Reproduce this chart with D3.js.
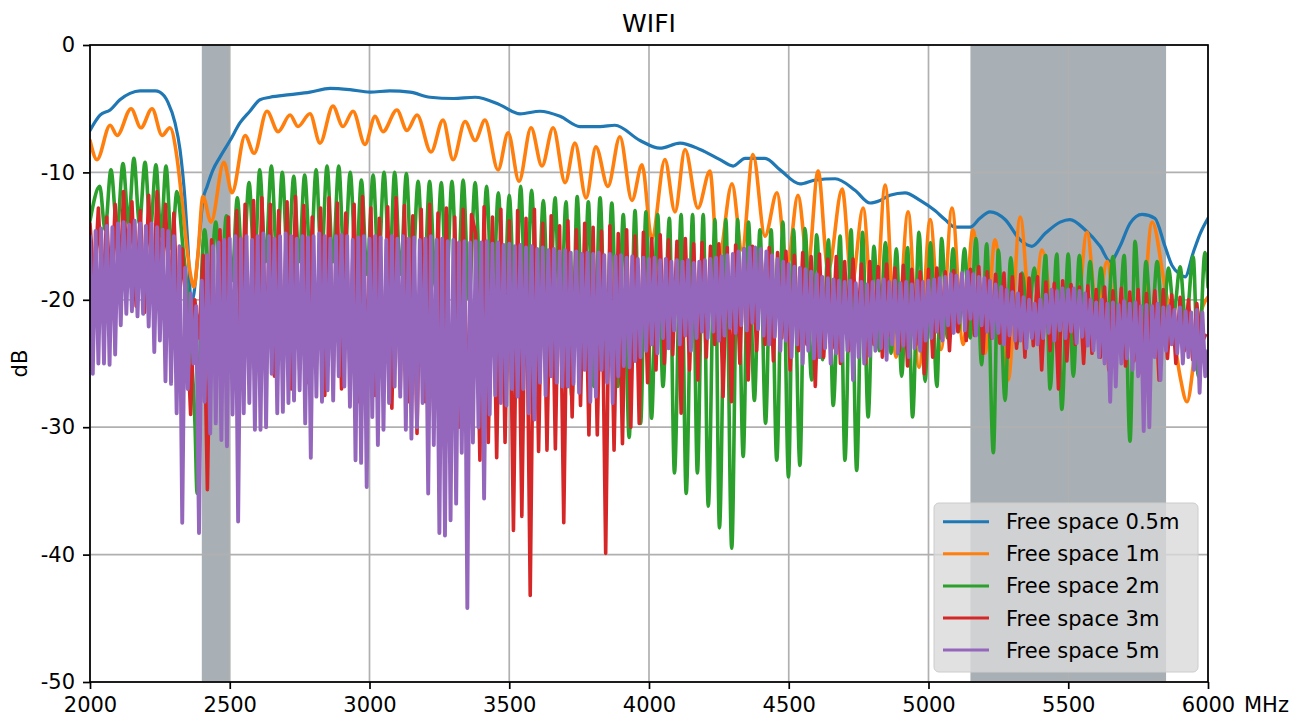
<!DOCTYPE html>
<html><head><meta charset="utf-8">
<script src="https://cdn.jsdelivr.net/npm/d3@7"></script>
<style>body{margin:0;background:#fff;} svg{display:block;font-family:"DejaVu Sans",sans-serif;}</style>
</head><body><svg id="c" width="1305" height="720"></svg>
<script>
// ---------- data ----------
const xTicks = [2000, 2500, 3000, 3500, 4000, 4500, 5000, 5500, 6000];
const yTicks = [0, -10, -20, -30, -40, -50];
const bands = [[2400, 2500], [5150, 5850]];
const seriesNames = ["Free space 0.5m", "Free space 1m", "Free space 2m", "Free space 3m", "Free space 5m"];
const seriesColors = ["#1f77b4", "#ff7f0e", "#2ca02c", "#d62728", "#9467bd"];

// 0.5 m : [MHz, dB]
const blue05 = [[2000,-6.7],[2036,-5.5],[2072,-5.1],[2107,-4.3],[2143,-3.8],[2179,-3.6],[2233,-3.6],[2250,-3.7],[2279,-4.5],[2304,-6.1],[2322,-8.2],[2340,-12.2],[2351,-16],[2362,-20.3],[2372,-19.5],[2386,-16.5],[2404,-12.2],[2419,-11.1],[2440,-9.8],[2465,-8.8],[2501,-7.5],[2537,-6.1],[2572,-5.2],[2608,-4.3],[2644,-4.1],[2716,-3.9],[2787,-3.7],[2859,-3.4],[2930,-3.5],[3002,-3.7],[3073,-3.6],[3145,-3.7],[3217,-4.1],[3300,-4.2],[3378,-4.1],[3467,-4.7],[3539,-5.4],[3610,-5.2],[3682,-5.6],[3753,-6.4],[3825,-6.4],[3878,-6.3],[3968,-7.5],[4039,-8.1],[4111,-7.7],[4183,-8.2],[4254,-9.0],[4301,-9.5],[4344,-8.9],[4415,-8.9],[4469,-9.8],[4540,-10.9],[4594,-10.6],[4666,-10.5],[4737,-11.4],[4791,-12.4],[4827,-12.2],[4862,-11.8],[4916,-11.6],[4970,-12.2],[5023,-13.0],[5059,-13.7],[5095,-14.3],[5149,-14.3],[5184,-13.6],[5220,-13.1],[5274,-13.7],[5328,-15.3],[5370,-15.8],[5417,-14.8],[5471,-13.9],[5506,-13.7],[5560,-14.5],[5614,-15.8],[5650,-17.0],[5685,-15.8],[5721,-14.0],[5764,-13.3],[5810,-13.6],[5846,-15.8],[5871,-17.3],[5900,-18.0],[5918,-18.2],[5947,-16.3],[5972,-14.8],[6000,-13.6]];

// 1 m : [MHz, dB]
const orange1 = [[2000,-7.5],[2025,-9.0],[2072,-6.3],[2097,-7.1],[2147,-5.0],[2182,-6.5],[2222,-5.0],[2258,-7.1],[2286,-6.5],[2311,-8.8],[2329,-12.2],[2347,-16.0],[2361,-18.2],[2372,-19.0],[2386,-16.5],[2404,-11.9],[2433,-13.9],[2479,-9.2],[2508,-11.6],[2555,-7.1],[2587,-8.5],[2633,-5.2],[2673,-6.8],[2716,-5.5],[2744,-6.4],[2787,-5.4],[2823,-7.7],[2869,-4.8],[2905,-6.4],[2941,-5.2],[2984,-7.8],[3020,-5.6],[3048,-6.8],[3098,-5.1],[3134,-6.7],[3170,-5.5],[3220,-8.4],[3263,-5.9],[3299,-9.0],[3342,-6.0],[3378,-7.5],[3413,-5.9],[3460,-9.8],[3496,-6.9],[3535,-10.7],[3578,-6.5],[3617,-9.5],[3657,-6.5],[3700,-10.8],[3735,-7.7],[3775,-12.0],[3810,-8.0],[3853,-11.1],[3896,-7.2],[3939,-12.2],[3975,-9.4],[4010,-15.2],[4057,-9.0],[4093,-13.1],[4129,-8.2],[4175,-12.8],[4218,-9.9],[4247,-17.1],[4297,-10.9],[4333,-16.1],[4372,-8.6],[4415,-15.0],[4458,-11.6],[4494,-17.4],[4533,-11.8],[4569,-17.2],[4605,-9.9],[4641,-17.7],[4691,-11.3],[4726,-18.7],[4766,-12.8],[4805,-22.9],[4845,-11.0],[4884,-24.5],[4927,-13.1],[4966,-25.3],[5006,-13.7],[5045,-23.9],[5084,-12.8],[5124,-23.5],[5159,-14.5],[5202,-24.2],[5238,-15.3],[5285,-26.3],[5328,-13.5],[5370,-22.6],[5406,-16.1],[5453,-22.0],[5489,-19.0],[5524,-23.0],[5567,-14.7],[5603,-21.0],[5639,-17.0],[5678,-24.0],[5721,-20.0],[5757,-23.0],[5800,-13.9],[5846,-19.0],[5871,-21.8],[5900,-26.0],[5925,-28.0],[5954,-24.0],[5975,-21.0],[6000,-19.8]];

// 2 m : [MHz, dB]
const green2 = [[2000,-13.8],[2035,-11.1],[2054,-14.5],[2075,-9.8],[2097,-14.5],[2118,-9.3],[2138,-14],[2157,-8.9],[2177,-14],[2197,-9.2],[2216,-14.5],[2236,-9.4],[2254,-15],[2272,-9.5],[2292,-16],[2311,-11.5],[2333,-16],[2351,-20],[2365,-25],[2376,-30],[2383,-35.2],[2390,-28],[2397,-20],[2410,-14.5],[2429,-19],[2450,-13.9],[2469,-19],[2488,-13.4],[2508,-18.5],[2527,-12.0],[2547,-18],[2569,-10.8],[2589,-17.5],[2607,-9.8],[2628,-17],[2649,-9.5],[2669,-17],[2688,-10.0],[2708,-17.5],[2729,-10.3],[2748,-17],[2768,-10.2],[2789,-17],[2809,-9.8],[2828,-17],[2848,-9.5],[2869,-17],[2890,-9.5],[2910,-17.5],[2931,-10.0],[2952,-17.5],[2971,-10.6],[2991,-18],[3013,-10.2],[3032,-17.5],[3052,-10.0],[3072,-17.5],[3090,-10.0],[3111,-18],[3132,-10.1],[3152,-18.5],[3174,-10.7],[3195,-19],[3215,-10.7],[3236,-19],[3257,-10.8],[3275,-19],[3295,-10.7],[3315,-19.5],[3335,-10.6],[3356,-20],[3378,-10.8],[3399,-20],[3419,-11.1],[3440,-21],[3461,-11.6],[3481,-21],[3500,-11.8],[3521,-21.5],[3541,-11.1],[3560,-22],[3580,-11.4],[3601,-22],[3622,-12.2],[3642,-22.5],[3664,-12.0],[3683,-23],[3703,-12.3],[3724,-27.6],[3743,-11.9],[3764,-24],[3783,-12.3],[3803,-26.8],[3825,-12.0],[3846,-25],[3867,-12.4],[3888,-26.8],[3908,-13.3],[3929,-30.8],[3950,-13.0],[3970,-29.7],[3989,-13.1],[4009,-29.3],[4031,-13.3],[4050,-26.8],[4073,-13.6],[4091,-33.6],[4115,-13.3],[4133,-35.2],[4156,-13.3],[4173,-33.6],[4194,-13.3],[4212,-36.2],[4236,-13.7],[4252,-37.9],[4275,-13.7],[4296,-39.5],[4317,-13.7],[4337,-32.3],[4356,-13.9],[4377,-27.9],[4397,-14.5],[4417,-29.7],[4437,-14.5],[4457,-32.6],[4479,-13.9],[4499,-33.9],[4517,-14.5],[4540,-33.0],[4558,-14.4],[4582,-26.3],[4600,-14.9],[4621,-24.7],[4642,-15.3],[4659,-28.3],[4684,-15.0],[4701,-32.6],[4723,-14.5],[4743,-33.4],[4764,-14.7],[4784,-29.2],[4805,-15.8],[4824,-24],[4846,-15.5],[4866,-24.2],[4885,-16],[4904,-26.0],[4925,-15.9],[4943,-29.2],[4966,-14.7],[4988,-26.4],[5007,-15.5],[5030,-26.8],[5047,-15.2],[5068,-23],[5088,-16],[5107,-22.5],[5129,-16],[5149,-23],[5170,-15.2],[5190,-25.1],[5208,-15.6],[5232,-32.0],[5250,-16.1],[5274,-27.9],[5294,-16.7],[5316,-23.5],[5335,-17.9],[5356,-22],[5378,-17.5],[5399,-22],[5419,-16.5],[5435,-27.0],[5459,-16.4],[5477,-28.6],[5500,-16.4],[5518,-26.0],[5540,-16.5],[5558,-23],[5578,-17],[5598,-22],[5617,-17.5],[5637,-22.5],[5660,-16.6],[5679,-23],[5700,-16.5],[5721,-31.1],[5739,-15.4],[5761,-24],[5778,-17],[5798,-22],[5818,-17],[5839,-22],[5859,-17.5],[5878,-21],[5900,-17.4],[5921,-22],[5947,-16.6],[5965,-26.0],[5989,-16.3],[6000,-19]];

// 3 m : sampled every 15 MHz from 2000 MHz
const red3Start = 2000, red3Step = 15;
const red3 = [
-14.0,-19.0,-12.8,-20.0,-13.5,-21.0,-12.5,-20.0,-11.5,-19.0,-12.3,-20.5,-13.0,-21.0,-11.8,-20.0,-11.5,-19.5,-12.5,-21.0,
-13.2,-22.0,-16.0,-21.0,-29.0,-20.0,-23.0,-16.5,-34.9,-15.3,-24.0,-14.5,-25.0,-13.5,-26.0,-13.0,-24.5,-12.5,-25.5,-12.2,
-25.0,-12.0,-24.0,-12.5,-26.0,-13.0,-25.0,-12.3,-27.0,-11.9,-25.5,-12.6,-26.5,-13.5,-25.0,-12.8,-27.5,-12.0,-26.0,-12.4,
-27.0,-13.2,-25.5,-12.5,-28.0,-11.9,-26.0,-12.8,-27.5,-13.6,-26.5,-12.7,-28.5,-12.0,-27.0,-12.6,-28.0,-13.4,-30.5,-12.9,
-28.0,-12.5,-29.0,-13.2,-30.7,-12.8,-32.6,-13.5,-30.0,-12.9,-30.5,-13.3,-14.8,-32.6,-12.7,-31.2,-13.5,-32.4,-12.9,-31.2,
-13.8,-38.1,-13.0,-37.0,-13.6,-43.2,-12.9,-31.9,-14.0,-31.8,-13.4,-31.7,-14.2,-37.5,-13.8,-29.2,-14.5,-28.3,-14.0,-30.6,
-14.3,-30.6,-14.6,-39.9,-14.2,-31.8,-14.8,-31.3,-14.5,-30.0,-15.0,-29.7,-14.7,-26.5,-15.2,-25.5,-14.9,-25.0,-15.3,-24.3,
-15.4,-28.9,-15.2,-25.5,-15.6,-26.3,-15.5,-24.5,-15.8,-23.5,-15.6,-27.6,-15.9,-28.0,-15.7,-25.0,-16.0,-26.3,-15.8,-24.0,
-16.1,-23.5,-15.9,-24.8,-16.3,-23.0,-16.2,-25.5,-16.5,-24.0,-16.3,-23.5,-16.6,-26.8,-16.4,-24.5,-16.8,-23.8,-16.6,-25.0,
-17.0,-24.0,-16.8,-23.0,-17.2,-25.0,-17.0,-23.5,-17.4,-24.5,-17.2,-22.8,-17.5,-24.0,-17.3,-25.2,-17.6,-23.5,-17.8,-25.8,
-17.6,-24.5,-17.5,-23.0,-17.8,-24.0,-17.7,-22.5,-18.0,-23.2,-17.6,-22.8,-17.4,-24.2,-17.8,-23.0,-18.0,-23.4,-17.9,-24.5,
-18.2,-23.8,-18.0,-24.5,-18.3,-23.6,-18.2,-25.5,-18.6,-24.0,-18.7,-27.0,-18.5,-24.8,-18.8,-23.5,-19.0,-25.0,-18.9,-24.2,
-19.2,-24.5,-19.0,-25.5,-19.3,-24.0,-19.1,-25.2,-19.4,-24.8,-19.2,-25.8,-19.5,-24.5,-19.3,-26.3,-19.2,-24.6,-19.6,-25.0,
-19.8,-24.0,-20.0,-24.7,-20.3,-23.5,-22.8];

// 5 m : sampled every 10 MHz from 2000 MHz
const purple5Start = 2000, purple5Step = 10;
const purple5 = [
-15.0,-25.8,-14.6,-25.0,-14.4,-25.0,-14.2,-25.1,-14.3,-24.3,-14.0,-22.0,-13.9,-21.1,-14.1,-20.9,-13.8,-21.3,-14.0,-21.1,
-14.2,-22.1,-14.0,-24.1,-14.3,-23.2,-14.5,-26.4,-14.6,-26.6,-15.0,-28.9,-15.8,-37.5,-17.5,-27.0,-19.5,-25.0,-20.5,-38.3,
-18.5,-28.0,-16.5,-30.5,-15.8,-29.7,-15.5,-31.0,-15.3,-31.5,-15.2,-29.0,-15.0,-37.4,-15.2,-28.9,-15.0,-28.1,-15.3,-30.2,
-15.0,-30.2,-14.8,-30.0,-15.0,-25.8,-15.2,-28.9,-15.0,-28.8,-14.8,-28.1,-15.0,-27.9,-15.2,-27.1,-15.0,-29.7,-15.1,-32.4,
-15.0,-27.6,-14.8,-28.0,-15.0,-27.1,-15.2,-27.9,-15.0,-26.0,-14.9,-26.8,-15.0,-28.4,-15.3,-32.6,-15.1,-32.8,-15.0,-34.7,
-15.2,-29.2,-15.0,-31.4,-15.1,-30.2,-15.3,-28.1,-15.0,-26.8,-15.2,-27.6,-15.0,-30.2,-15.2,-30.9,-15.1,-30.0,-15.3,-28.1,
-15.2,-35.2,-15.0,-31.4,-15.3,-38.3,-15.2,-38.5,-15.4,-37.3,-15.3,-36.0,-15.5,-32.0,-15.4,-44.2,-15.5,-31.2,-15.4,-30.0,
-15.5,-35.6,-15.4,-29.0,-15.6,-27.5,-15.5,-28.1,-15.7,-28.3,-15.6,-27.0,-15.8,-27.6,-15.7,-27.0,-15.9,-28.9,-15.8,-29.4,
-16.0,-26.5,-15.9,-27.5,-16.1,-26.0,-16.0,-26.5,-16.2,-26.8,-16.1,-26.8,-16.3,-26.6,-16.2,-27.3,-16.4,-25.5,-16.3,-28.0,
-16.4,-27.6,-16.3,-25.5,-16.5,-26.5,-16.4,-28.1,-16.6,-26.0,-16.5,-25.2,-16.7,-25.3,-16.6,-24.8,-16.8,-24.5,-16.7,-24.0,
-16.8,-23.5,-16.7,-24.2,-16.9,-23.0,-16.8,-23.8,-17.0,-22.4,-16.9,-23.5,-17.0,-22.8,-16.9,-24.0,-17.1,-23.0,-17.0,-22.5,
-16.9,-23.0,-16.8,-22.5,-16.7,-23.2,-16.6,-22.8,-16.5,-22.2,-16.4,-22.6,-16.2,-22.0,-16.0,-22.4,-15.9,-21.8,-15.9,-22.3,
-16.0,-22.8,-16.2,-23.5,-16.5,-22.9,-16.8,-24.0,-17.0,-23.2,-17.2,-24.5,-17.4,-23.5,-17.5,-25.0,-17.6,-24.0,-17.8,-24.6,
-18.0,-24.5,-18.2,-23.8,-18.3,-25.0,-18.4,-24.2,-18.5,-24.8,-18.6,-24.0,-18.5,-26.3,-18.7,-24.5,-18.6,-25.0,-18.8,-24.4,
-18.6,-24.0,-18.5,-23.8,-18.4,-24.7,-18.6,-23.5,-18.5,-24.2,-18.7,-23.6,-18.6,-24.5,-18.8,-23.8,-18.5,-24.0,-18.6,-23.2,
-18.5,-23.0,-18.4,-22.5,-18.3,-23.2,-18.2,-22.0,-18.0,-22.6,-18.1,-21.8,-17.9,-22.4,-17.8,-21.5,-18.0,-22.8,-18.2,-22.0,
-18.3,-22.5,-18.5,-23.0,-18.8,-22.6,-19.0,-23.5,-19.2,-22.8,-19.4,-23.2,-19.5,-23.2,-19.8,-23.8,-20.0,-23.0,-20.3,-23.5,
-20.0,-23.0,-19.6,-22.6,-19.2,-23.2,-19.3,-22.4,-19.1,-23.0,-19.2,-22.5,-19.1,-23.4,-19.3,-22.9,-19.5,-23.6,-20.0,-24.0,
-20.2,-24.5,-20.0,-25.0,-20.3,-28.0,-20.2,-26.8,-20.4,-25.0,-20.1,-24.6,-20.3,-25.5,-20.2,-26.0,-20.5,-30.3,-20.4,-30.0,
-20.5,-24.5,-20.3,-26.3,-20.6,-24.0,-20.5,-23.5,-20.8,-24.2,-20.6,-25.0,-20.9,-24.5,-21.0,-25.5,-20.8,-27.3,-21.0,-26.0,
-24.0];

// ---------- build ----------
const M = {left: 90, right: 1208, top: 45, bottom: 682};
const svg = d3.select("#c");
const x = d3.scaleLinear().domain([2000, 6000]).range([M.left, M.right]);
const y = d3.scaleLinear().domain([-50, 0]).range([M.bottom, M.top]);

const toPairs = (start, step, arr) => arr.map((v, i) => [start + i * step, v]);
const series = [
  {data: blue05, curve: d3.curveMonotoneX, w: 3.2},
  {data: orange1, curve: d3.curveMonotoneX, w: 3.6},
  {data: green2, curve: d3.curveMonotoneX, w: 3.6},
  {data: toPairs(red3Start, red3Step, red3), curve: d3.curveLinear, w: 3.6},
  {data: toPairs(purple5Start, purple5Step, purple5), curve: d3.curveLinear, w: 3.9}
];

svg.append("defs").append("clipPath").attr("id", "clip")
  .append("rect").attr("x", M.left).attr("y", M.top)
  .attr("width", M.right - M.left).attr("height", M.bottom - M.top);

// bands (under grid)
svg.append("g").selectAll("rect").data(bands).join("rect")
  .attr("x", d => x(d[0])).attr("width", d => x(d[1]) - x(d[0]))
  .attr("y", M.top).attr("height", M.bottom - M.top)
  .attr("fill", "#6f7b84").attr("fill-opacity", 0.6);

// grid
const grid = svg.append("g").attr("stroke", "#b0b0b0").attr("stroke-width", 1.7);
grid.selectAll("line.v").data(xTicks).join("line")
  .attr("x1", d => x(d)).attr("x2", d => x(d)).attr("y1", M.top).attr("y2", M.bottom);
grid.selectAll("line.h").data(yTicks).join("line")
  .attr("y1", d => y(d)).attr("y2", d => y(d)).attr("x1", M.left).attr("x2", M.right);

// lines
const lg = svg.append("g").attr("clip-path", "url(#clip)");
series.forEach((s, i) => {
  const line = d3.line().x(d => x(d[0])).y(d => y(d[1])).curve(s.curve);
  lg.append("path").datum(s.data).attr("d", line)
    .attr("fill", "none").attr("stroke", seriesColors[i])
    .attr("stroke-width", s.w).attr("stroke-linejoin", "round").attr("stroke-linecap", "round");
});

// spines
svg.append("rect").attr("x", M.left).attr("y", M.top)
  .attr("width", M.right - M.left).attr("height", M.bottom - M.top)
  .attr("fill", "none").attr("stroke", "#000").attr("stroke-width", 1.7);

// axes
const fs = 21;
const xAxis = svg.append("g").attr("transform", `translate(0,${M.bottom})`)
  .call(d3.axisBottom(x).tickValues(xTicks).tickFormat(d => String(d)).tickSize(7).tickPadding(8).tickSizeOuter(0));
const yAxis = svg.append("g").attr("transform", `translate(${M.left},0)`)
  .call(d3.axisLeft(y).tickValues(yTicks).tickFormat(d => String(d)).tickSize(7).tickPadding(8).tickSizeOuter(0));
[xAxis, yAxis].forEach(a => {
  a.select(".domain").remove();
  a.selectAll("line").attr("stroke", "#000").attr("stroke-width", 1.7);
  a.selectAll("text").attr("fill", "#000").style("font-size", fs + "px").style("font-family", "DejaVu Sans");
});

// titles
svg.append("text").attr("x", (M.left + M.right) / 2).attr("y", 31.5)
  .attr("text-anchor", "middle").style("font-size", "25px").text("WIFI");
svg.append("text").attr("transform", `translate(27,${(M.top + M.bottom) / 2}) rotate(-90)`)
  .attr("text-anchor", "middle").style("font-size", fs + "px").text("dB");
svg.append("text").attr("x", 1244).attr("y", M.bottom + 7 + 8 + 0.71 * fs)
  .style("font-size", fs + "px").text("MHz");

// legend
const leg = svg.append("g");
leg.append("rect").attr("x", 934).attr("y", 503).attr("width", 264).attr("height", 169)
  .attr("rx", 5).attr("fill", "#d9d9d9").attr("fill-opacity", 0.8)
  .attr("stroke", "#cccccc").attr("stroke-width", 1);
seriesNames.forEach((n, i) => {
  const cy = 521.7 + i * 32.1;
  leg.append("line").attr("x1", 943).attr("x2", 989).attr("y1", cy).attr("y2", cy)
    .attr("stroke", seriesColors[i]).attr("stroke-width", 3);
  leg.append("text").attr("x", 1006).attr("y", cy + 7.5).style("font-size", fs + "px").text(n);
});
</script></body></html>
